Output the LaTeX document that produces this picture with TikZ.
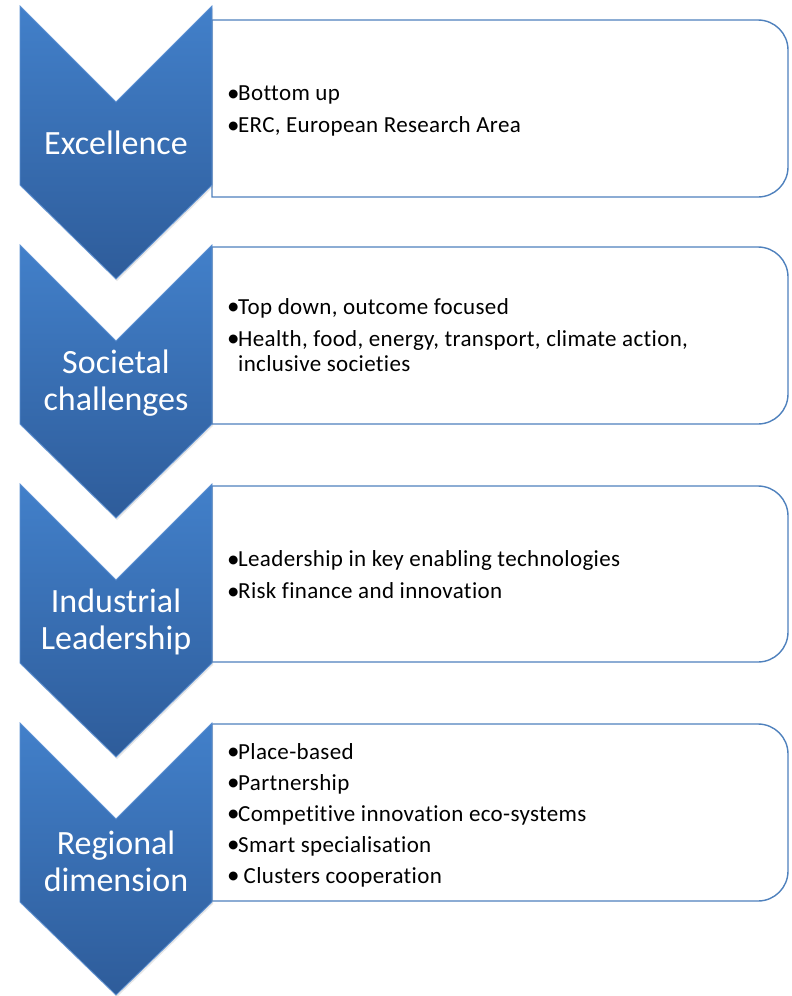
\documentclass[tikz,border=0pt]{standalone}
\usepackage{fontspec}
\setmainfont{Carlito}
\newfontfamily\itemfont[LetterSpace=1.5,Ligatures=NoCommon]{Carlito}
\usetikzlibrary{shadows}
\definecolor{chevtop}{RGB}{66,128,202}
\definecolor{chevbot}{RGB}{46,92,154}
\definecolor{chevedge}{RGB}{92,144,210}
\definecolor{paneledge}{RGB}{79,129,189}
\newcommand{\bul}{\makebox[10pt][l]{\hspace*{-1pt}\raisebox{-0.5pt}{\fontsize{25}{25}\selectfont •}}}

\begin{document}
\begin{tikzpicture}[x=1pt,y=-1pt,
		chevron/.style={top color=chevtop,bottom color=chevbot,draw=chevedge,line width=0.8pt,
			drop shadow={opacity=0.2,shadow xshift=1pt,shadow yshift=-2pt}},
		panel/.style={draw=paneledge,line width=1.4pt,fill=white},
		title/.style={text=white,align=center,font=\fontsize{34}{37}\selectfont},
		items/.style={anchor=west,inner sep=0pt,align=left,font=\itemfont\fontsize{23}{25}\selectfont}]
		\useasboundingbox (0,0) rectangle (792,996);
		\draw[panel] (212,20) -- (758,20) .. controls (774.6,20) and (788,33.4) .. (788,50)
		-- (788,167) .. controls (788,183.6) and (774.6,197) .. (758,197) -- (212,197) -- cycle;
		\draw[panel] (212,247) -- (758,247) .. controls (774.6,247) and (788,260.4) .. (788,277)
		-- (788,394) .. controls (788,410.6) and (774.6,424) .. (758,424) -- (212,424) -- cycle;
		\draw[panel] (212,486) -- (758,486) .. controls (774.6,486) and (788,499.4) .. (788,516)
		-- (788,632) .. controls (788,648.6) and (774.6,662) .. (758,662) -- (212,662) -- cycle;
		\draw[panel] (212,724) -- (758,724) .. controls (774.6,724) and (788,737.4) .. (788,754)
		-- (788,871) .. controls (788,887.6) and (774.6,901) .. (758,901) -- (212,901) -- cycle;
		\path[chevron] (20,6) -- (116,102) -- (212,6) -- (212,185) -- (116,279) -- (20,185) -- cycle;
		\path[chevron] (20,245) -- (116,341) -- (212,245) -- (212,424) -- (116,518) -- (20,424) -- cycle;
		\path[chevron] (20,484) -- (116,580) -- (212,484) -- (212,663) -- (116,757) -- (20,663) -- cycle;
		\path[chevron] (20,723) -- (116,819) -- (212,723) -- (212,902) -- (116,995) -- (20,902) -- cycle;
		\node[title] (exc) at (116,143) {Excellence};
		\node[title] (soc) at (116,383) {Societal\\challenges};
		\node[title] (ind) at (116,622) {Industrial\\Leadership};
		\node[title] (reg) at (116,861) {Regional\\dimension};
		\node[items] (exc_l) at (228,111) {\bul Bottom up\\[7pt]\bul ERC, European Research Area};
		\node[items] (soc_l) at (228,335) {\bul Top down, outcome focused\\[7pt]\bul Health, food, energy, transport, climate action,\\\hspace*{10pt}inclusive societies};
		\node[items] (ind_l) at (228,575) {\bul Leadership in key enabling technologies\\[7pt]\bul Risk finance and innovation};
		\node[items] (reg_l) at (228,815) {\bul Place-based\\[6pt]\bul Partnership\\[6pt]\bul Competitive innovation eco-systems\\[6pt]\bul Smart specialisation\\[6pt]\bul\ Clusters cooperation};
	\end{tikzpicture}
\end{document}
